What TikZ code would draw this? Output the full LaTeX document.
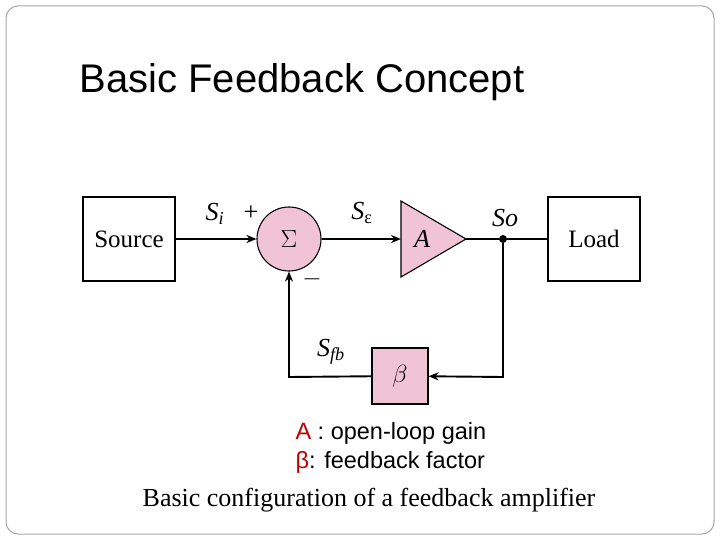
\documentclass[tikz,border=0pt]{standalone}
\usepackage{fontspec}
\setmainfont{Liberation Serif}
\newfontfamily\sans{Liberation Sans}
\usetikzlibrary{arrows.meta}
\definecolor{pinkf}{RGB}{240,196,212}
\begin{document}
\begin{tikzpicture}[x=1pt,y=-1pt,
  box/.style={draw,line width=1.1pt,minimum width=92pt,minimum height=84pt,font=\fontsize{25}{28}\selectfont},
  ln/.style={line width=1.9pt},
  arr/.style={ln,-{Stealth[length=10pt,width=8pt]}},
  lab/.style={font=\fontsize{26}{28}\selectfont\itshape}]
\useasboundingbox (0,0) rectangle (720,540);
\draw[gray!70,line width=1pt,rounded corners=12pt] (6,6) rectangle (714,534);
\node[anchor=west,font=\sans\fontsize{40}{46}\selectfont] (title) at (76,82) {Basic Feedback Concept};
\node[box] (src) at (129,239) {Source};
\node[box] (load) at (594,239) {Load};
\node[circle,draw,line width=1.1pt,fill=pinkf,minimum size=64pt,inner sep=0pt,font=\fontsize{28}{30}\selectfont] (sum) at (289,239) {$\Sigma$};
\path[draw,line width=1.1pt,fill=pinkf] (401,201) coordinate (a1) -- (466,239) coordinate (aout) -- (401,277) -- cycle;
\node[lab] (A) at (422,239) {A};
\node[draw,line width=1.1pt,fill=pinkf,minimum width=56pt,minimum height=56pt,font=\fontsize{32}{34}\selectfont] (beta) at (400,376) {$\beta$};
\coordinate (amid) at (401,239);
\node[circle,fill,inner sep=0pt,minimum size=8pt] (dot) at (503,239) {};
\coordinate (c1) at (503,377);
\coordinate (c2) at (289,377);
\draw[arr] (src) -- (sum);
\draw[arr] (sum) -- (amid);
\draw[ln] (aout) -- (dot) -- (load);
\draw[arr] (dot) -- (c1) -- (beta);
\draw[arr] (beta) -- (c2) -- (sum);
\node[lab] (si) at (215,214) {S\textsubscript{i}};
\node[font=\fontsize{26}{28}\selectfont] (plus) at (251,213) {+};
\node[font=\fontsize{26}{28}\selectfont] (minus) at (312,279) {$-$};
\node[lab] (se) at (362,213) {S\textsubscript{\upshape ε}};
\node[lab] (so) at (505,218) {So};
\node[lab] (sfb) at (331,352) {S\textsubscript{fb}};
\node[anchor=west,font=\sans\fontsize{23.5}{28}\selectfont] (l1) at (292,433) {\textcolor{red!75!black}{A} : open-loop gain};
\node[anchor=west,font=\sans\fontsize{23.5}{28}\selectfont] (l2) at (292,462) {\textcolor{red!75!black}{β}: feedback factor};
\node[font=\fontsize{26}{30}\selectfont] (cap) at (369,500) {Basic configuration of a feedback amplifier};
\end{tikzpicture}
\end{document}
